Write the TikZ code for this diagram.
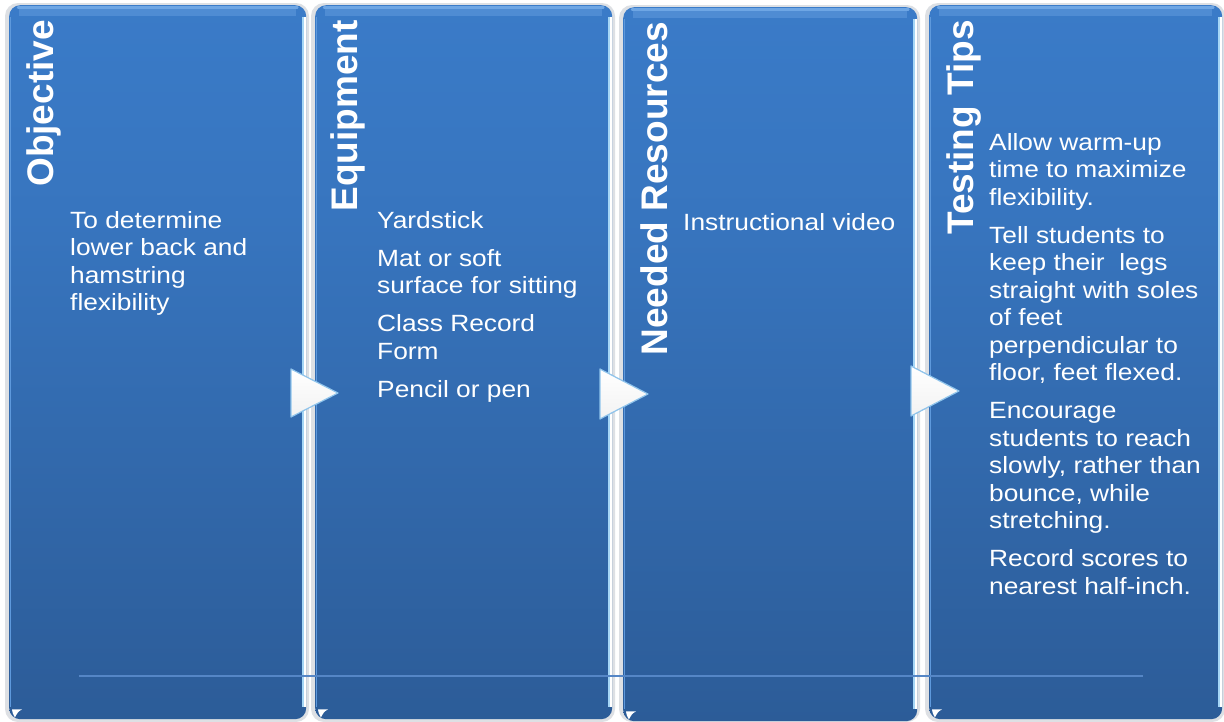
\documentclass[tikz,border=0pt]{standalone}
\usepackage{fontspec}
\setmainfont{Liberation Sans}
\newfontfamily\bodyfont{Liberation Sans}[FakeStretch=1.12]
\usetikzlibrary{calc}
\definecolor{pbottom}{HTML}{2C5C98}
\definecolor{pmid}{HTML}{3A7BC8}
\definecolor{plight}{HTML}{6EA6E4}
\definecolor{rim}{HTML}{A5D6F6}
\definecolor{hline}{HTML}{5586C6}
\definecolor{arrowedge}{HTML}{8FC4EC}
\definecolor{shadowc}{HTML}{DDE0E4}
\pgfdeclareverticalshading{panelshade}{100bp}{color(0bp)=(pbottom); color(25bp)=(pbottom); color(60bp)=(pmid!80!pbottom); color(75bp)=(pmid); color(100bp)=(pmid)}
\newcommand\pgap{\vskip10.5pt}
\begin{document}
\begin{tikzpicture}[x=1pt,y=-1pt,
  panel/.style={rectangle, rounded corners=11pt, shading=panelshade, inner sep=0pt, anchor=north west, minimum height=714pt},
  title/.style={rotate=90, anchor=base east, inner sep=0pt, text=white, font=\bfseries\fontsize{37}{40}\selectfont},
  body/.style={anchor=base west, inner sep=0pt, text=white, font=\bodyfont\fontsize{23.5}{27.5}\selectfont},
  arrowtri/.style={top color=white, bottom color=white!90!gray},
  arrowline/.style={arrowedge, line width=1.2pt, line join=round},
  rimline/.style={rim, line width=1.6pt},
  glint/.style={fill=white}
]
\useasboundingbox (0,0) rectangle (1224,721);
\fill[white] (0,0) rectangle (1224,721);

% shadows
\foreach \l/\r/\t in {9/306/5, 315/612/5, 623/917/7, 929/1222/5}{
  \fill[shadowc, rounded corners=13pt] (\l-4,\t-2) rectangle (\r+3,722);
}

% panels
\node[panel, minimum width=297pt] (p1) at (9,5) {};
\node[panel, minimum width=297pt] (p2) at (315,5) {};
\node[panel, minimum width=294pt] (p3) at (623,7) {};
\node[panel, minimum width=293pt] (p4) at (929,5) {};

% bevel details
\foreach \p in {p1,p2,p3,p4}{
  \draw[pmid!60!plight, line width=8pt] ([xshift=10pt,yshift=-7pt]\p.north west) -- ([xshift=-10pt,yshift=-7pt]\p.north east);
  \draw[plight, line width=2.5pt, line cap=round] ([xshift=9pt,yshift=-2.5pt]\p.north west) -- ([xshift=-9pt,yshift=-2.5pt]\p.north east);
  \draw[white, line width=2.2pt] ([xshift=-1.3pt,yshift=-12pt]\p.north east) -- ([xshift=-1.3pt,yshift=12pt]\p.south east);
  \draw[rimline] ([xshift=-3.6pt,yshift=-12pt]\p.north east) -- ([xshift=-3.6pt,yshift=12pt]\p.south east);
  \draw[plight!70!pmid, line width=1pt] ([xshift=1pt,yshift=-12pt]\p.north west) -- ([xshift=1pt,yshift=12pt]\p.south west);
  \fill[glint] ([xshift=3pt,yshift=10pt]\p.south west) -- ++(10,0) .. controls ++(-4,2) and ++(2,-4) .. ++(-7,8) .. controls ++(-2,-3) and ++(0,2) .. cycle;
}

% arrows
\fill[arrowtri] (291,369) -- (338,393) -- (291,417) -- cycle;
\fill[arrowtri] (600,369) -- (648,394) -- (600,419) -- cycle;
\fill[arrowtri] (911,366) -- (959,391) -- (911,416) -- cycle;
\draw[arrowline] (291,369) -- (338,393) -- (291,417) -- cycle;
\draw[arrowline] (600,369) -- (648,394) -- (600,419) -- cycle;
\draw[arrowline] (911,366) -- (959,391) -- (911,416) -- cycle;

% titles
\node[title] (t1) at (53,20) {Objective};
\node[title] (t2) at (357,20) {Equipment};
\node[title] (t3) at (667,22) {Needed Resources};
\node[title] (t4) at (973,20) {Testing Tips};

% bodies
\node[body] (b1) at (70,228) {\vtop{\hbox{To determine}\hbox{lower back and}\hbox{hamstring}\hbox{flexibility}}};
\node[body] (b2) at (377,228) {\vtop{\hbox{Yardstick}\pgap\hbox{Mat or soft}\hbox{surface for sitting}\pgap\hbox{Class Record}\hbox{Form}\pgap\hbox{Pencil or pen}}};
\node[body] (b3) at (683,230) {\vtop{\hbox{Instructional video}}};
\node[body] (b4) at (989,150) {\vtop{\hbox{Allow warm-up}\hbox{time to maximize}\hbox{flexibility.}\pgap
  \hbox{Tell students to}\hbox{keep their~ legs}\hbox{straight with soles}\hbox{of feet}\hbox{perpendicular to}\hbox{floor, feet flexed.}\pgap
  \hbox{Encourage}\hbox{students to reach}\hbox{slowly, rather than}\hbox{bounce, while}\hbox{stretching.}\pgap
  \hbox{Record scores to}\hbox{nearest half-inch.}}};

% baseline rule
\coordinate (l1) at (79,676);
\coordinate (l2) at (1143,676);
\draw[hline, line width=2.4pt] (l1) -- (l2);
\end{tikzpicture}
\end{document}
